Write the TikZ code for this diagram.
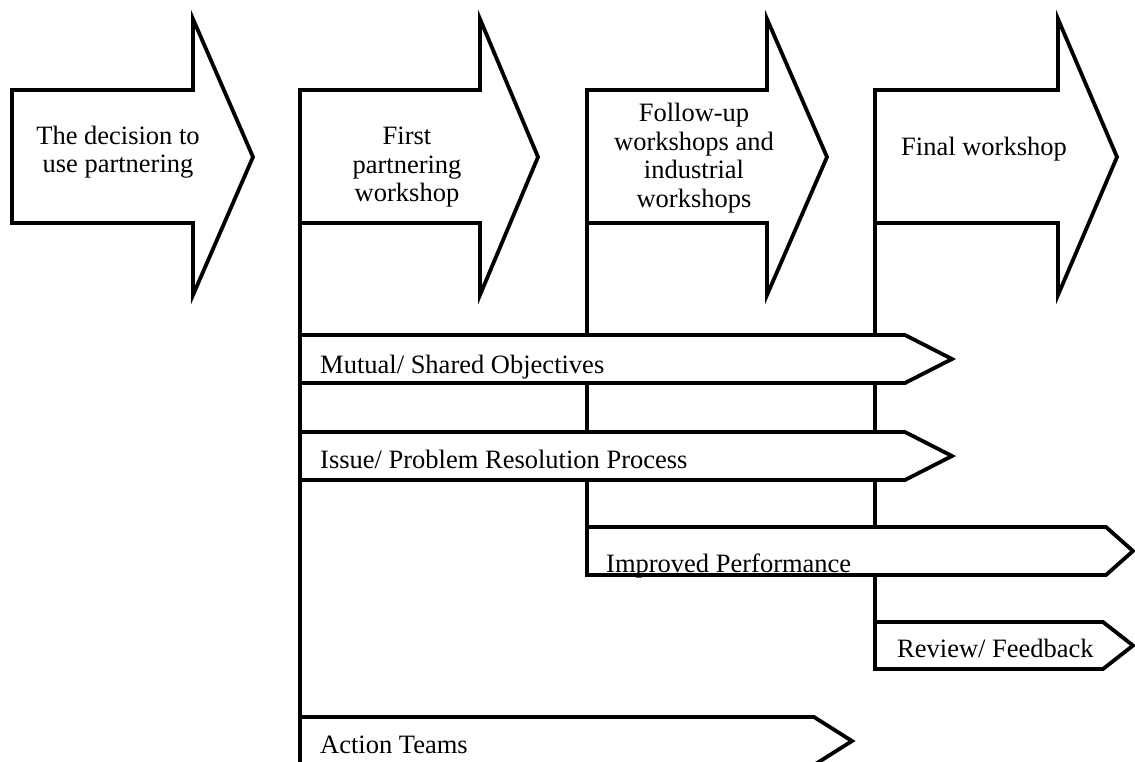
\documentclass[tikz,border=0pt]{standalone}
\usepackage{fontspec}
\setmainfont{Liberation Serif}
\newcommand\BigArr[3]{\draw[outline] (#1,90) -- (#2,90) -- (#2,19) -- (#3,157) -- (#2,295) -- (#2,223) -- (#1,223) -- cycle;}
\newcommand\SmallArr[5]{\draw[outline] (#1,#2) -- (#4,#2) -- (#5,{(#2+#3)/2}) -- (#4,#3) -- (#1,#3) -- cycle;}
\begin{document}
\begin{tikzpicture}[x=1pt,y=-1pt,
  outline/.style={line width=3.8pt, line join=miter, fill=white, draw=black},
  vline/.style={line width=3.8pt, draw=black},
  lbl/.style={font=\fontsize{26.5}{28.5}\selectfont, align=center, inner sep=0pt},
  tag/.style={font=\fontsize{26.5}{28.5}\selectfont, anchor=base west, inner sep=0pt}]
\useasboundingbox (0,0) rectangle (1135,761);
\clip (0,0) rectangle (1135,761);
\fill[white] (0,0) rectangle (1135,761);

% big process arrows
\BigArr{12}{193}{253}
\BigArr{300}{480}{538}
\BigArr{587}{767}{827}
\BigArr{875}{1058}{1117}

% stems
\coordinate (s1a) at (300,223);
\coordinate (s1b) at (300,780);
\coordinate (s2a) at (587,223);
\coordinate (s2b) at (587,529);
\coordinate (s3a) at (875,223);
\coordinate (s3b) at (875,624);
\draw[vline] (s1a) -- (s1b);
\draw[vline] (s2a) -- (s2b);
\draw[vline] (s3a) -- (s3b);

% outcome arrows
\SmallArr{300}{335}{383}{905}{952}
\SmallArr{300}{432}{480}{905}{952}
\SmallArr{587}{527}{575}{1106}{1133}
\SmallArr{875}{622}{669}{1103}{1133}
\SmallArr{300}{717}{765}{814}{852}

% labels of big arrows
\node[lbl] (d1) at (118,152) {The decision to\\use partnering};
\node[lbl] (d2) at (407,167.5) {First\\partnering\\workshop};
\node[lbl] (d3) at (694,158) {Follow-up\\workshops and\\industrial\\workshops};
\node[lbl] (d4) at (984,149) {Final workshop};

% labels of outcome arrows
\node[tag] (o1) at (320,373) {Mutual/ Shared Objectives};
\node[tag] (o2) at (320,468) {Issue/ Problem Resolution Process};
\node[tag] (o3) at (606,572) {Improved Performance};
\node[tag] (o4) at (897,657) {Review/ Feedback};
\node[tag] (o5) at (320,753) {Action Teams};
\end{tikzpicture}
\end{document}
